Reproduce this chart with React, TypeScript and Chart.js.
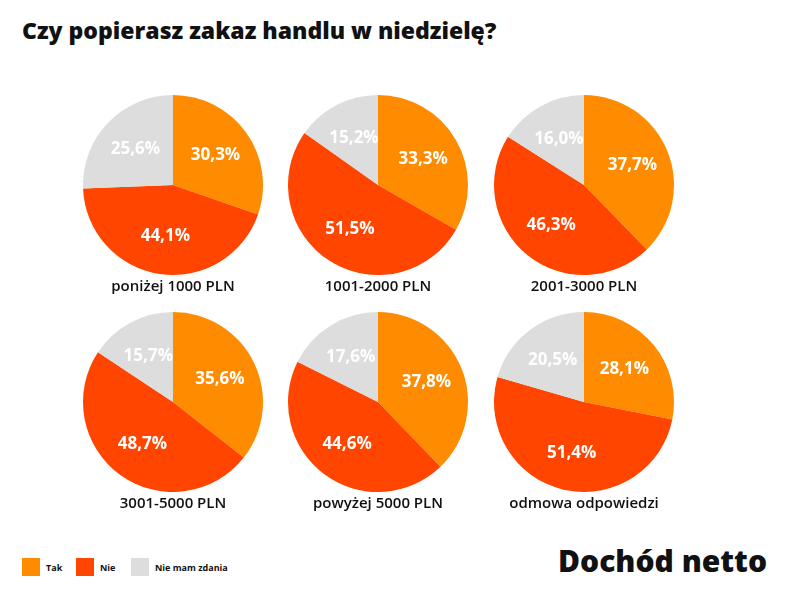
import React, { useEffect, useRef } from "react";
import Chart from "chart.js/auto";

const seriesNames = ["Tak", "Nie", "Nie mam zdania"];
const colors = ["#FF8C00", "#FF4500", "#DDDDDD"];
const groups = ["poniżej 1000 PLN", "1001-2000 PLN", "2001-3000 PLN", "3001-5000 PLN", "powyżej 5000 PLN", "odmowa odpowiedzi"];
const tak = [30.3, 33.3, 37.7, 35.6, 37.8, 28.1];
const nie = [44.1, 51.5, 46.3, 48.7, 44.6, 51.4];
const brak = [25.6, 15.2, 16.0, 15.7, 17.6, 20.5];

const FONT = "'Open Sans', 'DejaVu Sans', sans-serif";

const labelPlugin = {
  id: "pieLabels",
  afterDatasetsDraw(chart: any) {
    const ctx = chart.ctx;
    const meta = chart.getDatasetMeta(0);
    const ds = chart.data.datasets[0];
    ctx.save();
    ctx.font = `bold 17px ${FONT}`;
    ctx.fillStyle = "#ffffff";
    ctx.textAlign = "center";
    ctx.textBaseline = "middle";
    meta.data.forEach((arc: any, i: number) => {
      const p = arc.getProps(["x", "y", "startAngle", "endAngle", "outerRadius"], true);
      const a = (p.startAngle + p.endAngle) / 2;
      const r = p.outerRadius * 0.58;
      ctx.fillText(ds.data[i].toFixed(1).replace(".", ",") + "%", p.x + Math.cos(a) * r, p.y + Math.sin(a) * r);
    });
    ctx.restore();
  },
};

function Pie({ idx }: { idx: number }) {
  const ref = useRef<HTMLCanvasElement>(null);
  useEffect(() => {
    const c = new Chart(ref.current!, {
      type: "pie",
      data: {
        labels: seriesNames,
        datasets: [{ data: [tak[idx], nie[idx], brak[idx]], backgroundColor: colors, borderWidth: 0 }],
      },
      options: {
        animation: false,
        responsive: true,
        maintainAspectRatio: false,
        radius: 90,
        layout: { padding: 0 },
        plugins: { legend: { display: false }, tooltip: { enabled: false } },
      },
      plugins: [labelPlugin],
    });
    return () => c.destroy();
  }, [idx]);
  const cx = [173, 378, 584][idx % 3];
  const cy = [185, 402][Math.floor(idx / 3)];
  return (
    <>
      <div style={{ position: "absolute", left: cx - 95, top: cy - 95, width: 190, height: 190 }}>
        <canvas ref={ref} />
      </div>
      <div style={{ position: "absolute", left: cx - 100, width: 200, top: cy + 90, textAlign: "center", fontWeight: 600, fontSize: 15, color: "#111" }}>
        {groups[idx]}
      </div>
    </>
  );
}

export default function App() {
  return (
    <div style={{ position: "fixed", left: 0, top: 0, width: 800, height: 600, background: "#fff", fontFamily: FONT }}>
      <div style={{ position: "absolute", left: 22, top: 14, fontSize: 23, fontWeight: 800, color: "#111" }}>
        Czy popierasz zakaz handlu w niedzielę?
      </div>
      {groups.map((_, i) => <Pie key={i} idx={i} />)}
      {seriesNames.map((n, i) => (
        <div key={n} style={{ position: "absolute", left: [22, 76, 131][i], top: 558, display: "flex", alignItems: "center", fontSize: 9, fontWeight: 700, color: "#111" }}>
          <span style={{ display: "inline-block", width: 18, height: 18, background: colors[i], marginRight: 6 }} />
          {n}
        </div>
      ))}
      <div style={{ position: "absolute", right: 33, top: 540, fontSize: 30, fontWeight: 800, color: "#111" }}>
        Dochód netto
      </div>
    </div>
  );
}
